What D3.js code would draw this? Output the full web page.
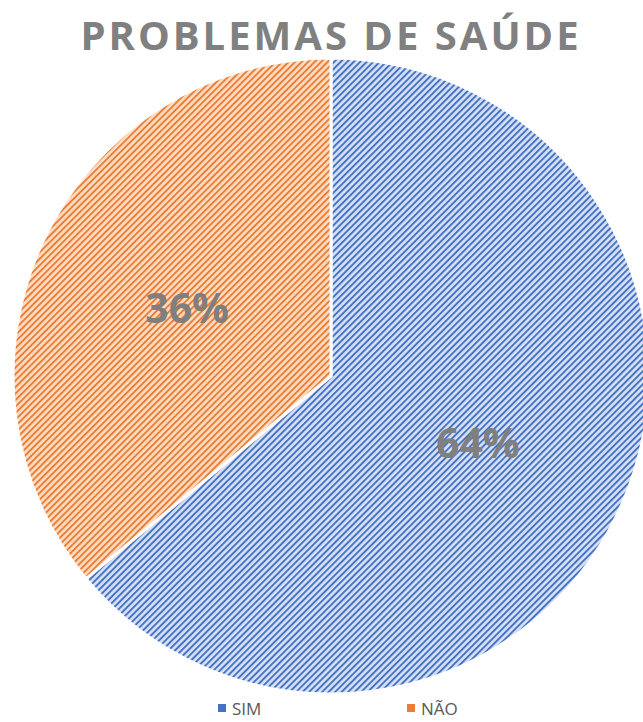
<!DOCTYPE html>
<html><head><meta charset="utf-8">
<script src="https://cdn.jsdelivr.net/npm/d3@7"></script>
<style>html,body{margin:0;padding:0;background:#fff;overflow:hidden}</style>
</head><body><svg id="c" width="643" height="722"></svg>
<script>
const categories = ["SIM", "NÃO"];
const values = [64, 36];
const labels = ["64%", "36%"];
const title = "PROBLEMAS DE SAÚDE";
const lineColors = ["#4472C4", "#ED7D31"];
const bgColors = ["#d6e0f4", "#fcdcc5"];

const svg = d3.select("#c");
const defs = svg.append("defs");
categories.forEach((c, i) => {
  const p = defs.append("pattern").attr("id", "hatch" + i)
    .attr("patternUnits", "userSpaceOnUse").attr("width", 4.6).attr("height", 4.6)
    .attr("patternTransform", "rotate(45)");
  p.append("rect").attr("width", 4.6).attr("height", 4.6).attr("fill", bgColors[i]);
  p.append("rect").attr("width", 1.9).attr("height", 4.6).attr("fill", lineColors[i]);
});

const cx = 331, cy = 376, r = 318;
const pie = d3.pie().sort(null).value(d => d)(values);
const arc = d3.arc().innerRadius(0).outerRadius(r);
const g = svg.append("g").attr("transform", `translate(${cx},${cy})`);
g.selectAll("path").data(pie).join("path")
  .attr("d", arc)
  .attr("fill", (d, i) => `url(#hatch${i})`)
  .attr("stroke", "#fff").attr("stroke-width", 3);

const labelArc = d3.arc().innerRadius(r * 0.5).outerRadius(r * 0.5);
g.selectAll("text.lbl").data(pie).join("text").attr("class", "lbl")
  .attr("transform", d => { const [x, y] = labelArc.centroid(d); return `translate(${x + (d.index === 0 ? 3 : 0)},${y})`; })
  .attr("text-anchor", "middle").attr("dy", "0.35em")
  .attr("font-family", "Open Sans, sans-serif").attr("font-weight", "bold")
  .attr("font-size", 41).attr("fill", "#7f7f7f")
  .text((d, i) => labels[i]);

svg.append("text").attr("x", 331).attr("y", 50).attr("text-anchor", "middle")
  .attr("font-family", "Open Sans, sans-serif").attr("font-weight", "bold")
  .attr("font-size", 40).attr("letter-spacing", 3).attr("fill", "#808080")
  .text(title);

const legX = [218, 407];
categories.forEach((c, i) => {
  svg.append("rect").attr("x", legX[i]).attr("y", 704).attr("width", 8).attr("height", 8)
    .attr("fill", lineColors[i]);
  svg.append("text").attr("x", legX[i] + 14).attr("y", 715)
    .attr("font-family", "Open Sans, sans-serif").attr("font-size", 17).attr("fill", "#595959")
    .text(c);
});
</script></body></html>
